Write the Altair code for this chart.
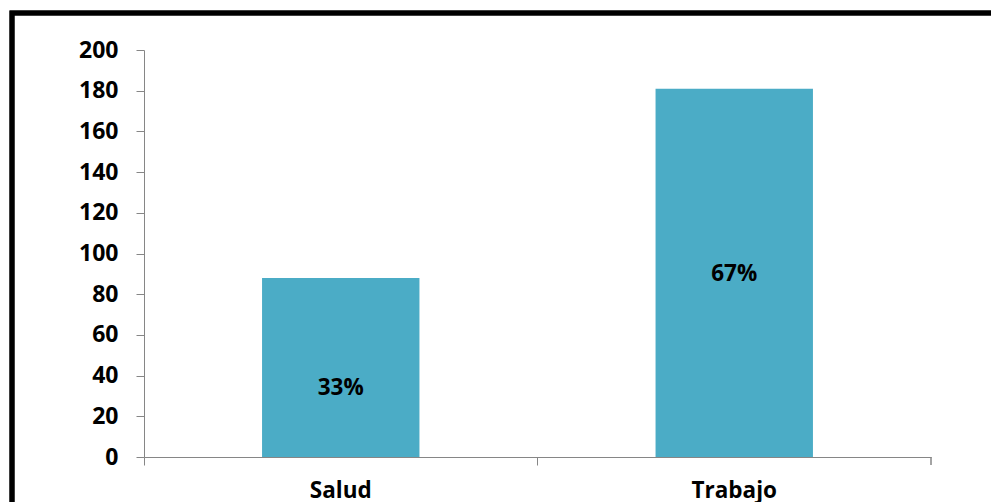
import altair as alt
import pandas as pd

categories = ["Salud", "Trabajo"]
values = [88, 181]
pct_labels = ["33%", "67%"]
label_pos = [34, 90]

df = pd.DataFrame({"cat": categories, "val": values, "lbl": pct_labels, "lpos": label_pos})

W, H = 787, 407
FONT = "Open Sans"

x_enc = alt.X("cat:N", sort=categories,
              scale=alt.Scale(paddingInner=0, paddingOuter=0),
              axis=alt.Axis(title=None, labelAngle=0, bandPosition=0,
                            labelFont=FONT, labelFontSize=22.5, labelFontWeight="bold",
                            labelColor="black", domainColor="#868686", tickColor="#868686",
                            tickSize=8, labelPadding=14, labelBound=False))
y_enc = alt.Y("val:Q", scale=alt.Scale(domain=[0, 200], nice=False),
              axis=alt.Axis(title=None, values=list(range(0, 201, 20)), grid=False,
                            labelFont=FONT, labelFontSize=23, labelFontWeight="bold",
                            labelColor="black", domainColor="#868686", tickColor="#868686",
                            tickSize=8, labelPadding=18))

bars = alt.Chart(df).mark_bar(color="#4BACC6", width=alt.RelativeBandSize(0.4)).encode(x=x_enc, y=y_enc)

text = alt.Chart(df).mark_text(font=FONT, fontSize=22.5, fontWeight="bold", color="black").encode(
    x=alt.X("cat:N", sort=categories), y=alt.Y("lpos:Q"), text="lbl:N")

end_tick = alt.Chart(df).mark_rule(color="#868686", strokeWidth=1).encode(
    x=alt.value(W), y=alt.value(H), y2=alt.value(H + 8))

border = alt.Chart(df).mark_rect(fill=None, stroke="black", strokeWidth=5, clip=False).encode(
    x=alt.value(-132), x2=alt.value(W + 120), y=alt.value(-37), y2=alt.value(H + 100))

chart = alt.layer(bars, text, end_tick, border).properties(
    width=W, height=H,
    padding={"left": 144, "top": 50, "right": 60, "bottom": 45},
    autosize=alt.AutoSizeParams(type="none"),
    background="white",
).configure_view(stroke=None)

chart.save("out.html", embed_options={"renderer": "svg", "actions": False})
